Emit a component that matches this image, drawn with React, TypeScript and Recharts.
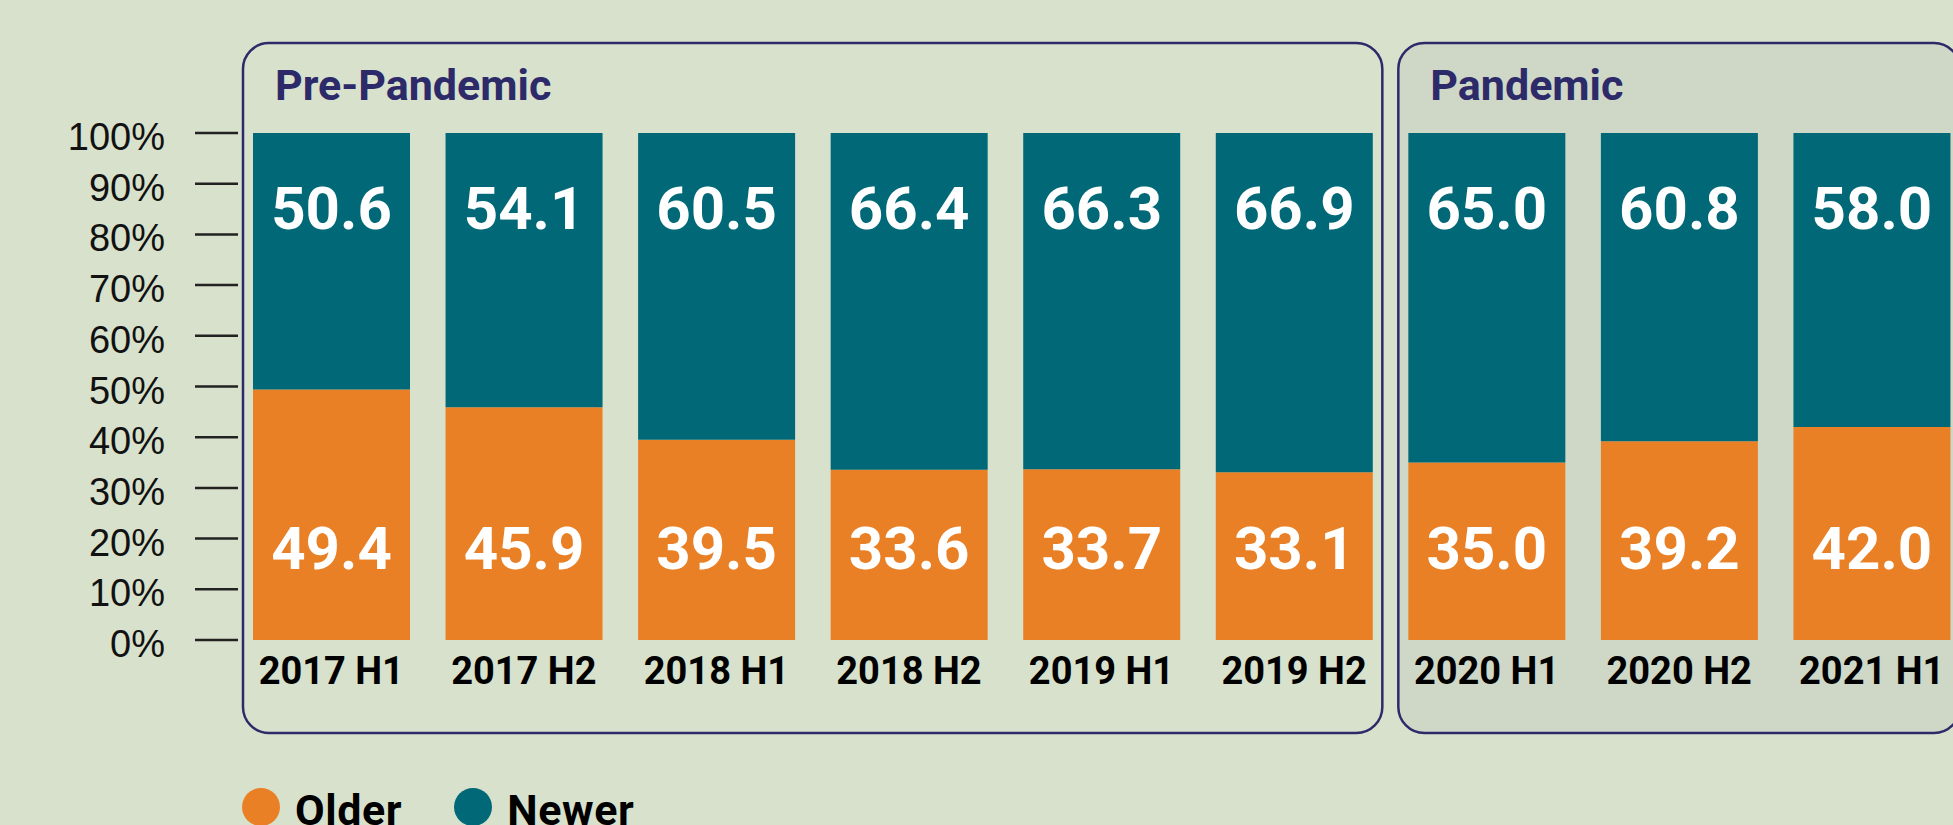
import React from "react"
import { BarChart, Bar, XAxis, YAxis, ReferenceArea, LabelList } from "recharts"

const categories = ["2017 H1", "2017 H2", "2018 H1", "2018 H2", "2019 H1", "2019 H2", "2020 H1", "2020 H2", "2021 H1"]
const older = [49.4, 45.9, 39.5, 33.6, 33.7, 33.1, 35.0, 39.2, 42.0]
const newer = [50.6, 54.1, 60.5, 66.4, 66.3, 66.9, 65.0, 60.8, 58.0]
const yTicks = [0, 10, 20, 30, 40, 50, 60, 70, 80, 90, 100]
const periodNames = ["Pre-Pandemic", "Pandemic"]
const periodStarts = ["2017 H1", "2020 H1"]
const periodEnds = ["2019 H2", "2021 H1"]

const BG = "#d8e1cc"
const PANDEMIC_BG = "#cfd8c6"
const NAVY = "#2d2a6a"
const TEAL = "#006877"
const ORANGE = "#ea8025"

const series = [
  { key: "older", name: "Older", color: ORANGE },
  { key: "newer", name: "Newer", color: TEAL },
]

const data = categories.map((c, i) => ({ cat: c, older: older[i], newer: newer[i] }))

function YTick({ x, y, payload }: any) {
  return (
    <g>
      <line x1={x + 30} x2={x + 73} y1={y} y2={y} stroke="#222" strokeWidth={2.5} />
      <text
        x={x}
        y={y + 4}
        textAnchor="end"
        dominantBaseline="central"
        fontFamily="Liberation Sans, Arial, sans-serif"
        fontSize={38}
        fill="#111"
      >
        {payload.value}%
      </text>
    </g>
  )
}

function XTick({ x, y, payload }: any) {
  return (
    <text x={x} y={y + 44} textAnchor="middle" fontFamily="Roboto" fontWeight={700} fontSize={38} fill="#000">
      {payload.value}
    </text>
  )
}

function PeriodBox(props: any) {
  const { x, y, width, height, name, shaded } = props
  const left = x + 8
  const top = y - 90
  return (
    <g>
      <rect
        x={left}
        y={top}
        width={width - 16}
        height={height + 183}
        rx={26}
        ry={26}
        fill={shaded ? PANDEMIC_BG : "none"}
        stroke={NAVY}
        strokeWidth={2.5}
      />
      <text x={left + 32} y={y - 33} fontFamily="Roboto" fontWeight={700} fontSize={43} fill={NAVY}>
        {name}
      </text>
    </g>
  )
}

function valueLabel(offset: number, fromTop: boolean) {
  return (props: any) => {
    const { x, y, width, height, value } = props
    const ty = fromTop ? y + offset : y + height - offset
    return (
      <text x={x + width / 2} y={ty} textAnchor="middle" fontFamily="Roboto" fontWeight={700} fontSize={60} fill="#fff">
        {Number(value).toFixed(1)}
      </text>
    )
  }
}

export default function App() {
  return (
    <div style={{ position: "fixed", left: 0, top: 0, width: 1953, height: 825, overflow: "hidden", background: BG }}>
      <BarChart
        width={1990}
        height={825}
        data={data}
        margin={{ top: 133, right: 22, bottom: 155, left: 0 }}
        barCategoryGap={18}
      >
        {periodNames.map((n, i) => (
          <ReferenceArea
            key={n}
            x1={periodStarts[i]}
            x2={periodEnds[i]}
            ifOverflow="visible"
            shape={(p: any) => <PeriodBox {...p} name={n} shaded={i === 1} />}
          />
        ))}
        <XAxis
          dataKey="cat"
          height={30}
          axisLine={false}
          tickLine={false}
          tickSize={0}
          tickMargin={0}
          tick={<XTick />}
          interval={0}
        />
        <YAxis
          width={235}
          domain={[0, 100]}
          ticks={yTicks}
          axisLine={false}
          tickLine={false}
          tickSize={0}
          tickMargin={70}
          tick={<YTick />}
          interval={0}
        />
        <Bar dataKey="older" name="Older" stackId="a" fill={ORANGE} isAnimationActive={false}>
          <LabelList dataKey="older" content={valueLabel(71, false)} />
        </Bar>
        <Bar dataKey="newer" name="Newer" stackId="a" fill={TEAL} isAnimationActive={false}>
          <LabelList dataKey="newer" content={valueLabel(96, true)} />
        </Bar>
      </BarChart>
      <div style={{ position: "absolute", left: 242, top: 788, display: "flex", alignItems: "center" }}>
        {series.map((s) => (
          <div key={s.key} style={{ display: "flex", alignItems: "center", marginRight: 52 }}>
            <span
              style={{ display: "inline-block", width: 38, height: 38, borderRadius: "50%", background: s.color }}
            />
            <span
              style={{
                marginLeft: 15,
                fontFamily: "Roboto",
                fontWeight: 700,
                fontSize: 43,
                lineHeight: "38px",
                letterSpacing: 0.6,
                color: "#000",
                position: "relative",
                top: 3,
              }}
            >
              {s.name}
            </span>
          </div>
        ))}
      </div>
    </div>
  )
}
